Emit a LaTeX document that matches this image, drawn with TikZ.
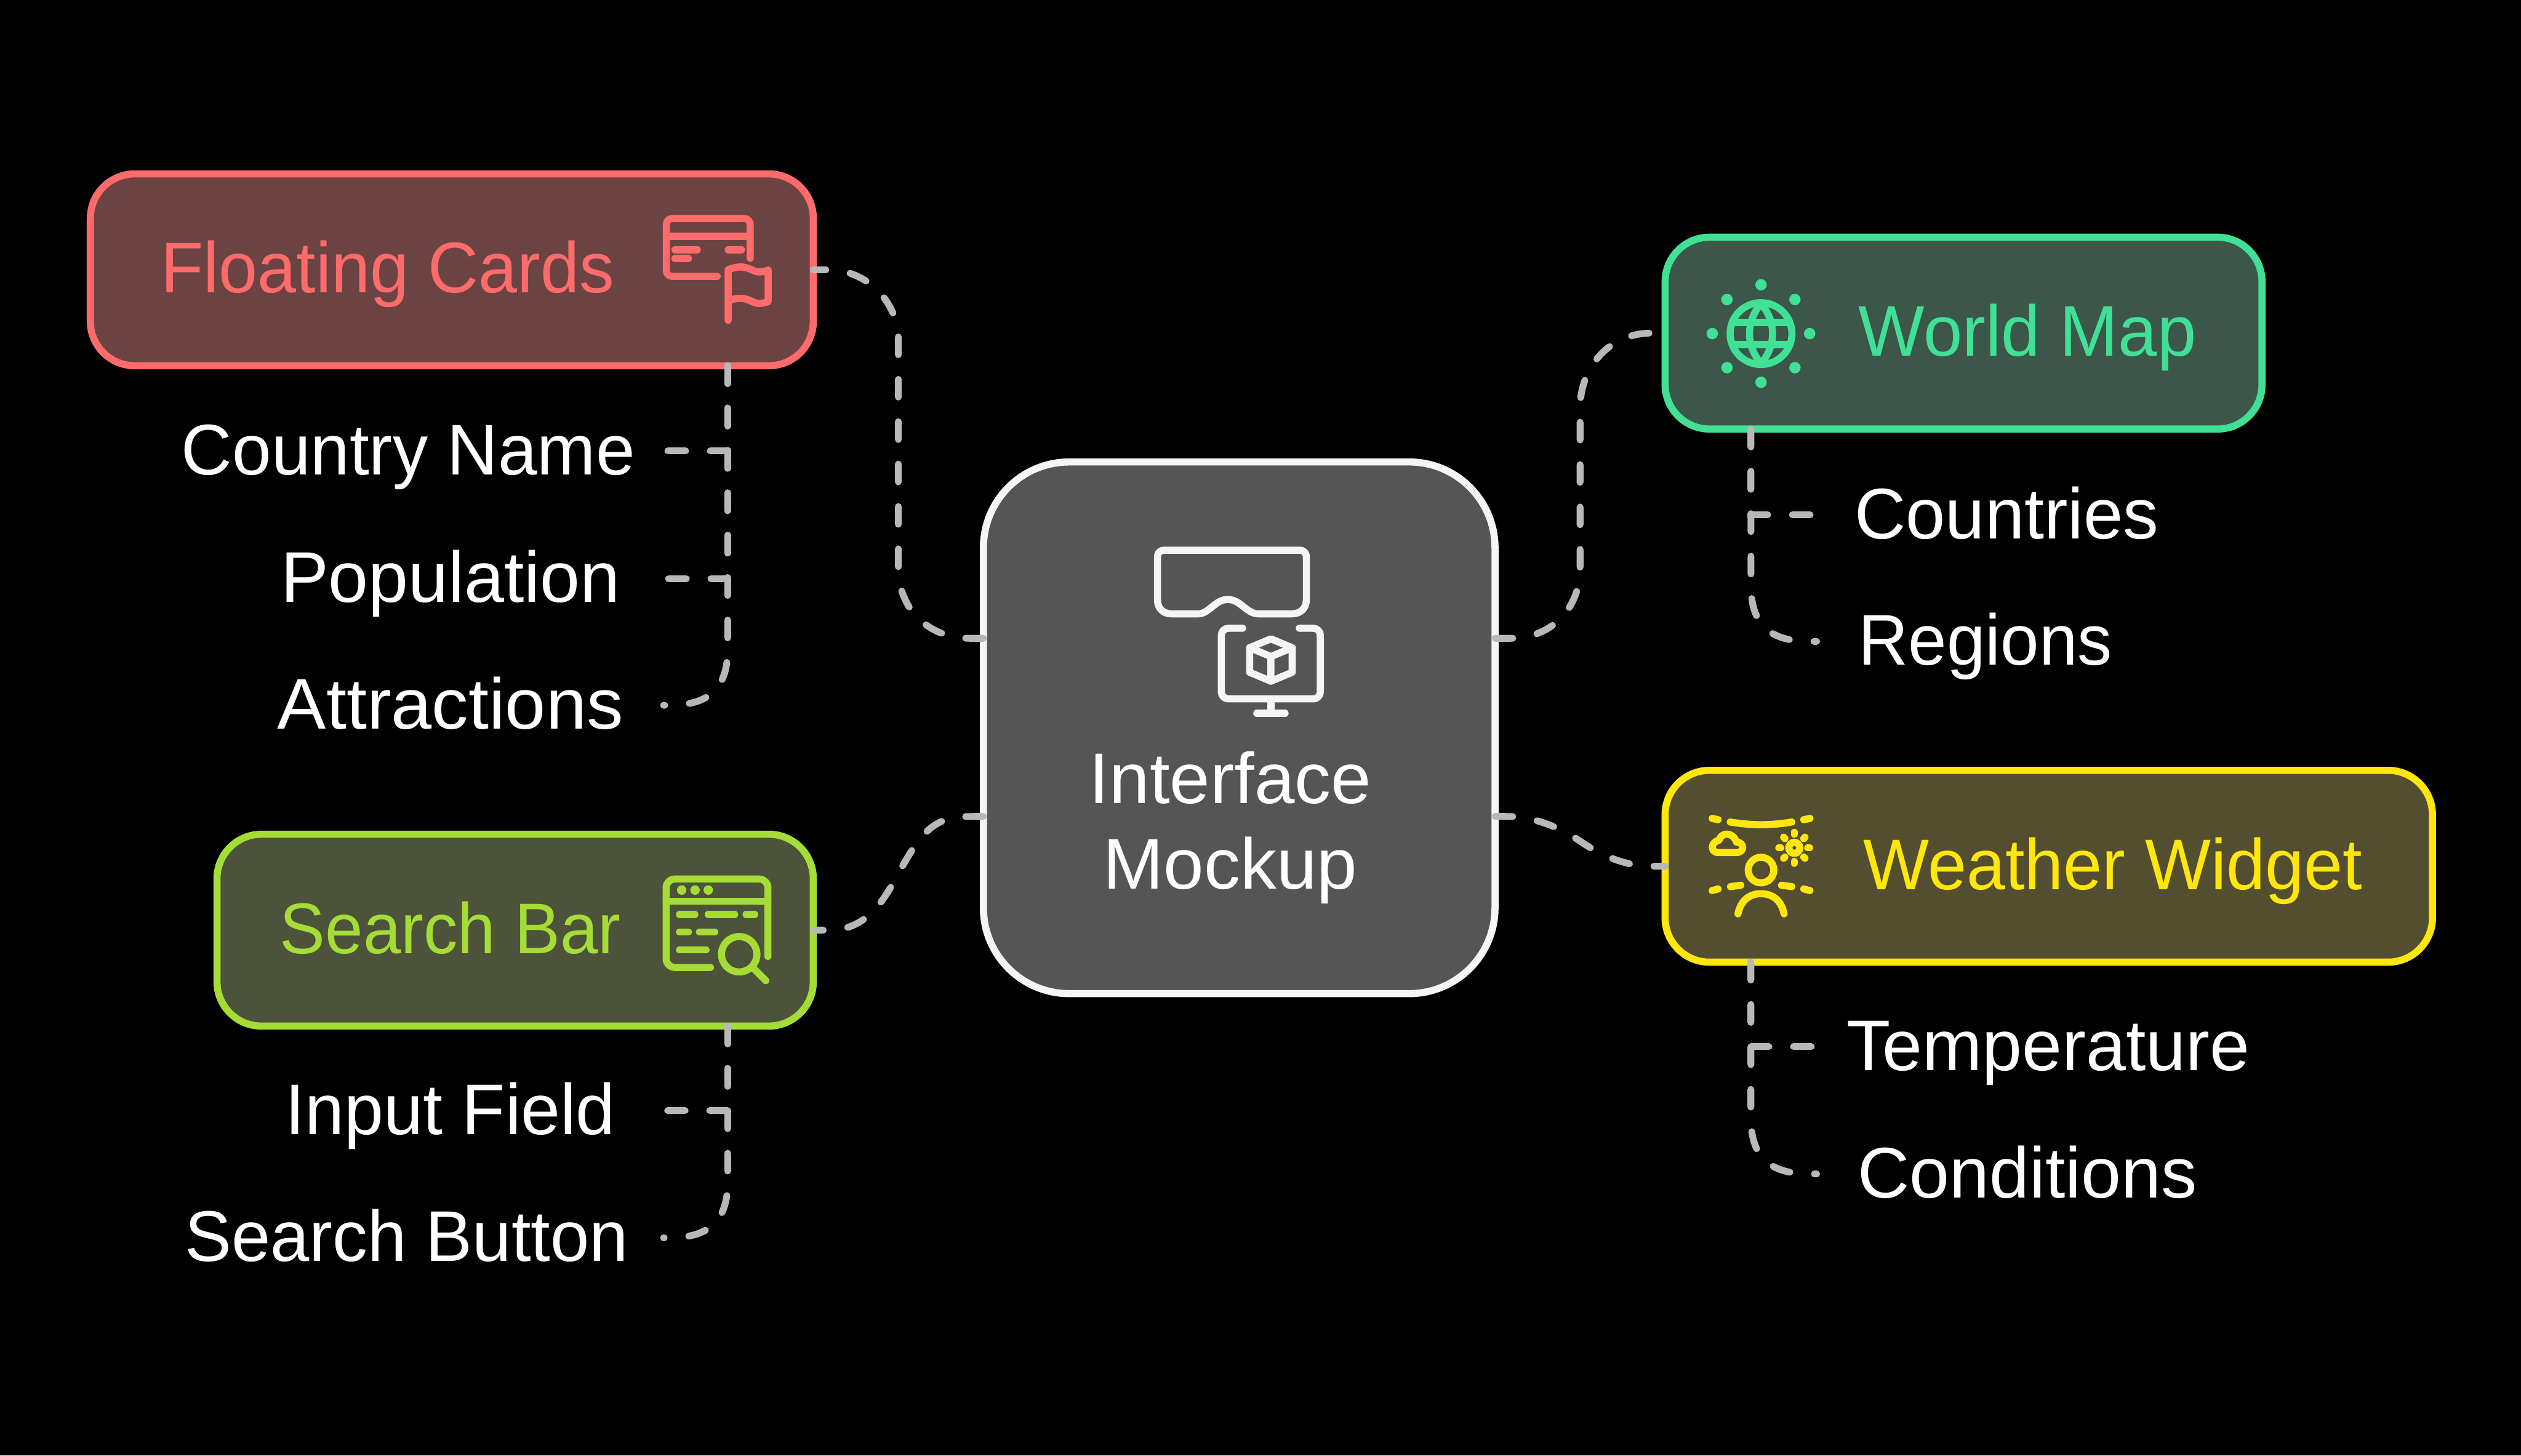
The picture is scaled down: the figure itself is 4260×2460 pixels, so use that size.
\documentclass[tikz,border=0pt]{standalone}
\usepackage{fontspec}
\usepackage{graphicx}
\setmainfont{Liberation Sans}
\usetikzlibrary{calc}
\definecolor{cred}{HTML}{FF6B6B}\definecolor{fred}{HTML}{6B4343}
\definecolor{clime}{HTML}{A5DC35}\definecolor{flime}{HTML}{4C533A}
\definecolor{cgrn}{HTML}{40E096}\definecolor{fgrn}{HTML}{3C5749}
\definecolor{cyel}{HTML}{FFE60D}\definecolor{fyel}{HTML}{544E30}
\definecolor{cwht}{HTML}{F5F5F5}\definecolor{fgry}{HTML}{555555}
\definecolor{clink}{HTML}{B8B8B8}
\newcommand{\sx}[2]{\scalebox{#1}[1]{#2}}
\tikzset{
 x=0.01cm,y=-0.01cm,
 boxnode/.style={draw,line width=0.12cm,rounded corners=0.75cm,outer sep=0pt,inner sep=0pt},
 lab/.style={font=\fontsize{34.5}{41}\selectfont,inner sep=0pt,outer sep=0pt,text height=0.80cm,text depth=0pt,align=center},
 leaf/.style={lab,text=white},
 link/.style={draw=clink,line width=0.115cm,line cap=round,line join=miter,dash pattern=on 0.30cm off 0.416cm},
 icon/.style={line width=0.12cm,line cap=round,line join=round},
 iconat/.style 2 args={shift={(#1,#2)},x=0.0033333cm,y=-0.0033333cm},
}
\begin{document}
\begin{tikzpicture}
\fill[black] (0,0) rectangle (4260,2460);
\useasboundingbox (0,0) rectangle (4260,2460);

% boxes
\node[boxnode,draw=cred,fill=fred,minimum width=12.21cm,minimum height=3.24cm] (fc) at (763.5,456) {};
\node[boxnode,draw=clime,fill=flime,minimum width=10.07cm,minimum height=3.24cm] (sb) at (870.5,1572) {};
\node[boxnode,draw=cwht,fill=fgry,rounded corners=1.45cm,minimum width=8.64cm,minimum height=8.98cm] (cen) at (2094,1230) {};
\node[boxnode,draw=cgrn,fill=fgrn,minimum width=10.08cm,minimum height=3.24cm] (wm) at (3318,563) {};
\node[boxnode,draw=cyel,fill=fyel,minimum width=12.96cm,minimum height=3.24cm] (ww) at (3462,1464) {};

% box titles
\node[lab,text=cred] (fct) at (655,455) {\sx{.972}{Floating Cards}};
\node[lab,text=clime] (sbt) at (761,1571) {\sx{.95}{Search Bar}};
\node[lab,text=cgrn] (wmt) at (3426,562) {\sx{.977}{World Map}};
\node[lab,text=cyel] (wwt) at (3570,1463) {\sx{.972}{Weather Widget}};
\node[lab,text=white] (cena) at (2079,1318) {\sx{1.01}{Interface}};
\node[lab,text=white] (cenb) at (2079,1462) {\sx{1.01}{Mockup}};

% leaves (invisible extent reaches to the connector end)
\node[leaf,minimum width=8.76cm] (l1) at (690,762) {\sx{.98}{Country Name}};
\node[leaf,minimum width=7.34cm] (l2) at (761,978) {Population};
\node[leaf,minimum width=7.20cm] (l3) at (761,1192) {\sx{1.02}{Attractions}};
\node[leaf,minimum width=7.34cm] (l4) at (761,1877) {\sx{.985}{Input Field}};
\node[leaf,minimum width=8.68cm] (l5) at (687,2092) {\sx{.975}{Search Button}};
\node[leaf,minimum width=6.52cm] (r1) at (3391,870) {\sx{.99}{Countries}};
\node[leaf,minimum width=5.70cm] (r2) at (3355,1084) {\sx{.963}{Regions}};
\node[leaf,minimum width=7.92cm] (r3) at (3461,1769) {Temperature};
\node[leaf,minimum width=7.12cm] (r4) at (3426,1984) {Conditions};

% ports on box borders
\coordinate (fcB) at ($(fc.south west)+(1077,0)$);
\coordinate (sbB) at ($(sb.south west)+(863,0)$);
\coordinate (wmB) at ($(wm.south west)+(145,0)$);
\coordinate (wwB) at ($(ww.south west)+(145,0)$);

% child connectors
\draw[link] (fcB) -- (fcB |- l1.east) -- (l1.east);
\draw[link] (fcB) -- (fcB |- l2.east) -- (l2.east);
\draw[link] (fcB) -- ($(fcB |- l3.east)+(0,-95)$) .. controls ($(fcB |- l3.east)+(0,-25)$) and ($(fcB |- l3.east)+(-35,0)$) .. ($(fcB |- l3.east)+(-100,0)$) -- (l3.east);
\draw[link] (sbB) -- (sbB |- l4.east) -- (l4.east);
\draw[link] (sbB) -- ($(sbB |- l5.east)+(0,-95)$) .. controls ($(sbB |- l5.east)+(0,-25)$) and ($(sbB |- l5.east)+(-35,0)$) .. ($(sbB |- l5.east)+(-100,0)$) -- (l5.east);
\draw[link] (wmB) -- (wmB |- r1.west) -- (r1.west);
\draw[link] (wmB) -- ($(wmB |- r2.west)+(0,-95)$) .. controls ($(wmB |- r2.west)+(0,-25)$) and ($(wmB |- r2.west)+(35,0)$) .. ($(wmB |- r2.west)+(100,0)$) -- (r2.west);
\draw[link] (wwB) -- (wwB |- r3.west) -- (r3.west);
\draw[link] (wwB) -- ($(wwB |- r4.west)+(0,-95)$) .. controls ($(wwB |- r4.west)+(0,-25)$) and ($(wwB |- r4.west)+(35,0)$) .. ($(wwB |- r4.west)+(100,0)$) -- (r4.west);

% centre connectors
\draw[link] ($(cen.north west)+(0,298)$) -- ++(-23,0) .. controls (1570,1079) and (1518,1030) .. (1518,960) -- (1518,570) .. controls (1516,510) and (1465,456) .. (1400,456) -- (fc.east);
\draw[link] ($(cen.north east)+(0,298)$) -- ++(26,0) .. controls (2620,1079) and (2670,1030) .. (2670,960) -- (2670,690) .. controls (2670,620) and (2720,563) .. (2790,563) -- (wm.west);
\draw[link] ($(cen.north west)+(0,599)$) -- (1630,1380) .. controls (1570,1382) and (1550,1420) .. (1518,1476) .. controls (1490,1530) and (1460,1572) .. (1400,1572) -- (sb.east);
\draw[link] ($(cen.north east)+(0,599)$) -- (2560,1380) .. controls (2600,1384) and (2640,1400) .. (2675,1425) .. controls (2710,1448) and (2750,1464) .. (2790,1464) -- (ww.west);

% Floating Cards icon
\begin{scope}[iconat={1080}{320},icon,draw=cred,rounded corners=0.1cm]
\draw (564,350) -- (564,148) -- (138,148) -- (138,442) -- (396,442);
\draw (138,238) -- (564,238);
\draw (182,307) -- (295,307);
\draw (182,351) -- (250,351);
\draw (452,307) -- (520,307);
\end{scope}
\begin{scope}[iconat={1080}{320},icon,draw=cred]
\draw (452,665) -- (452,408) .. controls (510,385) and (545,395) .. (570,408) .. controls (600,423) and (620,423) .. (655,410) -- (655,570) .. controls (620,583) and (600,583) .. (570,568) .. controls (545,555) and (510,545) .. (452,565);
\end{scope}

% Search Bar icon
\begin{scope}[iconat={1080}{1430},icon,draw=clime]
\draw[rounded corners=0.15cm] (654,560) -- (654,167) -- (137,167) -- (137,616) -- (362,616);
\draw (137,280) -- (654,280);
\fill[clime] (216,223) circle[radius=24] (284,223) circle[radius=24] (351,223) circle[radius=24];
\draw (205,347) -- (283,347) (351,347) -- (485,347) (543,347) -- (587,347);
\draw (205,436) -- (250,436) (306,436) -- (384,436) (205,527) -- (340,527);
\draw (508,549) circle[radius=90];
\draw (585,625) -- (643,683);
\end{scope}

% Interface Mockup icon
\begin{scope}[iconat={1900}{880},icon,draw=cwht]
\draw (168,190) .. controls (168,165) and (175,150) .. (205,150) -- (888,150) .. controls (915,150) and (924,165) .. (924,190) -- (924,400) .. controls (924,445) and (895,473) .. (850,473) -- (680,473) .. controls (620,473) and (590,400) .. (525,400) .. controls (460,400) and (430,473) .. (375,473) -- (240,473) .. controls (195,473) and (168,445) .. (168,400) -- cycle;
\draw[rounded corners=0.12cm] (600,546) -- (492,546) -- (492,905) -- (995,905) -- (995,546) -- (888,546);
\draw (744,905) -- (744,978) (672,978) -- (816,978);
\draw (744,600) -- (852,645) -- (852,770) -- (744,815) -- (636,770) -- (636,645) -- cycle;
\draw (636,645) -- (744,690) -- (852,645) (744,690) -- (744,815);
\end{scope}

% World Map icon
\begin{scope}[iconat={2840}{440},icon,draw=cgrn]
\draw (408,372) circle[radius=157];
\draw (408,220) .. controls (330,310) and (330,434) .. (408,524);
\draw (408,220) .. controls (486,310) and (486,434) .. (408,524);
\draw (262,315) -- (554,315) (262,428) -- (554,428);
\foreach \p in {(408,124),(580,199),(655,372),(580,545),(408,619),(235,545),(160,372),(235,199)} \fill[cgrn] \p circle[radius=29];
\end{scope}

% Weather Widget icon
\begin{scope}[iconat={2840}{1340},icon,draw=cyel]
\draw (160,130) -- (190,136) (625,136) -- (656,130);
\draw (252,148) .. controls (360,166) and (456,166) .. (564,148);
\draw (190,303) -- (285,303) .. controls (325,303) and (325,250) .. (283,250) .. controls (265,195) and (205,200) .. (195,240) .. controls (150,250) and (150,303) .. (190,303) -- cycle;
\draw (577,279) circle[radius=28];
\draw (577,200) -- (577,210) (577,348) -- (577,358) (498,279) -- (508,279) (645,279) -- (655,279);
\draw (523,225) -- (529,232) (631,225) -- (625,232) (523,332) -- (529,326) (631,332) -- (625,326);
\draw (408,392) circle[radius=65];
\draw (291,614) .. controls (305,545) and (350,512) .. (408,512) .. controls (466,512) and (511,545) .. (525,614);
\draw (160,496) -- (190,488) (253,476) -- (305,469) (512,469) -- (564,476) (625,488) -- (656,496);
\end{scope}
\end{tikzpicture}
\end{document}
